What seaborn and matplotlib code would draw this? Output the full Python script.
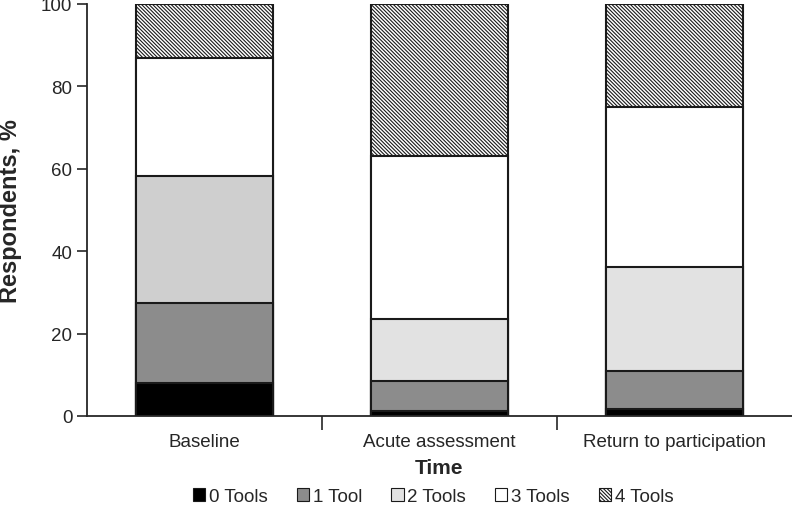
import numpy as np
import pandas as pd
import matplotlib.pyplot as plt
import seaborn as sns
from matplotlib.patches import Patch

times = ['Baseline', 'Acute assessment', 'Return to participation']
levels = ['0 Tools', '1 Tool', '2 Tools', '3 Tools', '4 Tools']
tools0 = [8.0, 1.2, 1.7]
tools1 = [19.4, 7.3, 9.2]
tools2 = [30.8, 15.1, 25.3]
tools3 = [28.6, 39.4, 38.8]
tools4 = [13.2, 37.0, 25.0]

colors = ['#000000', '#8c8c8c', '#e2e2e2', '#ffffff', '#ffffff']
hatches = [None, None, None, None, '\\' * 9]

sns.set_style('ticks')
plt.rcParams['font.family'] = ['Liberation Sans', 'DejaVu Sans']
plt.rcParams['hatch.linewidth'] = 0.8

df = pd.DataFrame({'Time': times, '0 Tools': tools0, '1 Tool': tools1,
                   '2 Tools': tools2, '3 Tools': tools3, '4 Tools': tools4})
cum = df[levels].cumsum(axis=1)

fig = plt.figure(figsize=(7.92, 5.10), dpi=100)
ax = fig.add_axes([0.1098, 0.1824, 0.8902, 0.8078])

# draw cumulative totals from the top layer down so each covers the next
for i in range(len(levels) - 1, -1, -1):
    sns.barplot(x=df['Time'], y=cum[levels[i]], color=colors[i], width=0.58,
                edgecolor='#1a1a1a', linewidth=1.5, saturation=1, ax=ax,
                hatch=hatches[i])

# baseline's 2-tool segment is a bit darker in the original
ax.patches[6].set_facecolor('#cfcfcf')

ax.set_xlim(-0.5, 2.5)
ax.set_ylim(0, 100)
ax.set_yticks([0, 20, 40, 60, 80, 100])
ax.tick_params(axis='y', labelsize=13.5, length=7, width=1.2, direction='out')
ax.set_xticks([0.5, 1.5])
ax.set_xticklabels([])
ax.tick_params(axis='x', which='major', length=10, width=1.2, direction='out')
ax.set_xticks([0, 1, 2], minor=True)
ax.set_xticklabels(times, minor=True)
ax.tick_params(axis='x', which='minor', length=0, labelsize=13.5, pad=12)

ax.set_xlabel('Time', fontsize=15, fontweight='bold', labelpad=6)
ax.set_ylabel('Respondents, %', fontsize=17, fontweight='bold')
ax.yaxis.set_label_coords(-0.092, 0.5)

sns.despine(ax=ax)
for s in ['left', 'bottom']:
    ax.spines[s].set_linewidth(1.3)

handles = [Patch(facecolor=colors[i], edgecolor='#1a1a1a', linewidth=0.8,
                 hatch=hatches[i]) for i in range(len(levels))]
fig.legend(handles, levels, loc='center', bbox_to_anchor=(0.547, 0.024),
           ncol=5, frameon=False, fontsize=13.5, handlelength=0.65,
           handleheight=0.65, handletextpad=0.2, columnspacing=1.55)

fig.savefig('out.png', dpi=100)
